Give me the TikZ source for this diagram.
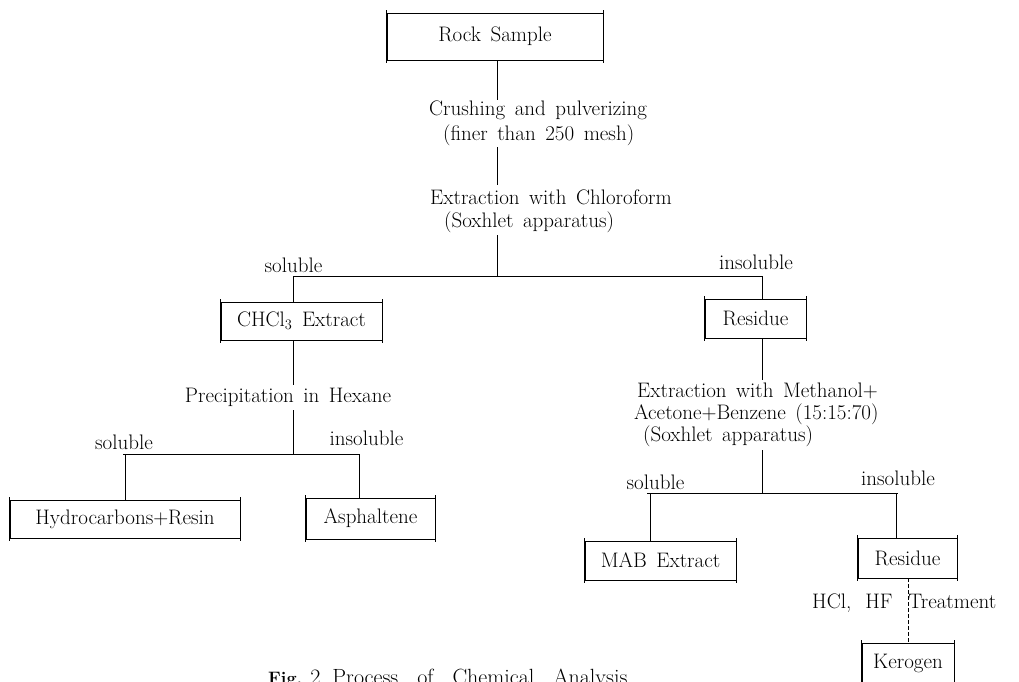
\documentclass[tikz,border=0pt]{standalone}
\begin{document}
\fontsize{21}{24}\selectfont\fontdimen2\font=9.5pt\fontdimen3\font=2pt\relax
\begin{tikzpicture}[x=1pt,y=-1pt,
  every node/.style={font=\fontsize{21}{24}\selectfont, inner sep=0pt},
  conn/.style={line width=0.9pt},
  dconn/.style={line width=0.9pt, dash pattern=on 4pt off 2pt},
  box/.style={draw, line width=0.9pt, append after command={
    ([yshift=2.5pt]\tikzlastnode.north west) edge[line width=0.9pt] ([yshift=-2.5pt]\tikzlastnode.south west)
    ([yshift=2.5pt]\tikzlastnode.north east) edge[line width=0.9pt] ([yshift=-2.5pt]\tikzlastnode.south east)}}
]
\useasboundingbox (0,0) rectangle (1019,682);
\clip (0,0) rectangle (1019,682);

% boxes
\node[box, minimum width=216pt, minimum height=47pt] (rock) at (495,36.5) {Rock Sample};
\node[box, minimum width=161pt, minimum height=38pt] (chcl) at (301.5,321) {CHCl$_3$ Extract};
\node[box, minimum width=101pt, minimum height=39pt] (res1) at (755.5,318.5) {Residue};
\node[box, minimum width=230pt, minimum height=38pt] (hyd) at (125,519) {Hydrocarbons$+$Resin};
\node[box, minimum width=129pt, minimum height=41pt] (asph) at (370.5,518.5) {Asphaltene};
\node[box, minimum width=151pt, minimum height=39pt] (mab) at (660.5,560.5) {MAB Extract};
\node[box, minimum width=99pt, minimum height=40pt] (res2) at (907.5,558) {Residue};
\node[box, minimum width=92pt, minimum height=40pt] (ker) at (908,663) {Kerogen};

% process texts
\node[anchor=west, align=left] (t1) at (429,123.5) {Crushing and pulverizing\\[1pt]\hspace*{14pt}(finer than 250 mesh)};
\node[anchor=west, align=left] (t2) at (430,211.5) {Extraction with Chloroform\\[-1pt]\hspace*{14pt}(Soxhlet apparatus)};
\node (t3) at (288,397) {Precipitation in Hexane};
\node[anchor=west, align=left] (t4) at (634,415) {\hspace*{3pt}Extraction with Methanol$+$\\[-2pt]Acetone$+$Benzene (15:15:70)\\[-2pt]\hspace*{9pt}(Soxhlet apparatus)};
\node[anchor=west] (t5) at (812,603) {HCl,\hspace{14pt}HF\hspace{16pt}Treatment};

% branch labels
\node (s1) at (293.5,265) {soluble};
\node (i1) at (756,262) {insoluble};
\node (s2) at (124,442) {soluble};
\node (i2) at (366.5,438) {insoluble};
\node (s3) at (655.5,482) {soluble};
\node (i3) at (898,478) {insoluble};

% caption
\node[anchor=base west, font=\fontsize{22}{26}\selectfont] (cap) at (268,684) {{\fontsize{18}{20}\selectfont\textbf{Fig.}}\hspace{8pt}2\hspace{12pt}Process\hspace{19pt}of\hspace{19pt}Chemical\hspace{19pt}Analysis};

% coordinates
\coordinate (c1) at (497,100);
\coordinate (c2t) at (497,147);
\coordinate (c2b) at (497,185);
\coordinate (c3t) at (497,235);
\coordinate (j1) at (497,276);
\coordinate (j1l) at (293,276);
\coordinate (j1r) at (762,276);
\coordinate (l1) at (293,385);
\coordinate (l2t) at (293,410);
\coordinate (j2) at (293,454);
\coordinate (j2l) at (123,454);
\coordinate (j2r) at (359,454);
\coordinate (j2a) at (125,454);
\coordinate (r1) at (762,380);
\coordinate (r2t) at (762,450);
\coordinate (j3) at (762,493);
\coordinate (j3l) at (647,493);
\coordinate (j3r) at (898,493);
\coordinate (j3a) at (650,493);
\coordinate (j3b) at (896,493);

% connectors
\draw[conn] (rock.south -| c1) -- (c1);
\draw[conn] (c2t) -- (c2b);
\draw[conn] (c3t) -- (j1);
\draw[conn] (j1l) -- (j1r);
\draw[conn] (j1l) -- (j1l |- chcl.north);
\draw[conn] (j1r) -- (j1r |- res1.north);

\draw[conn] (chcl.south -| l1) -- (l1);
\draw[conn] (l2t) -- (j2);
\draw[conn] (j2l) -- (j2r);
\draw[conn] (j2a) -- (hyd.north);
\draw[conn] (j2r) -- (j2r |- asph.north);

\draw[conn] (res1.south -| r1) -- (r1);
\draw[conn] (r2t) -- (j3);
\draw[conn] (j3l) -- (j3r);
\draw[conn] (j3a) -- (j3a |- mab.north);
\draw[conn] (j3b) -- (j3b |- res2.north);
\draw[dconn] (res2.south -| ker.north) -- (ker.north);
\end{tikzpicture}
\end{document}
